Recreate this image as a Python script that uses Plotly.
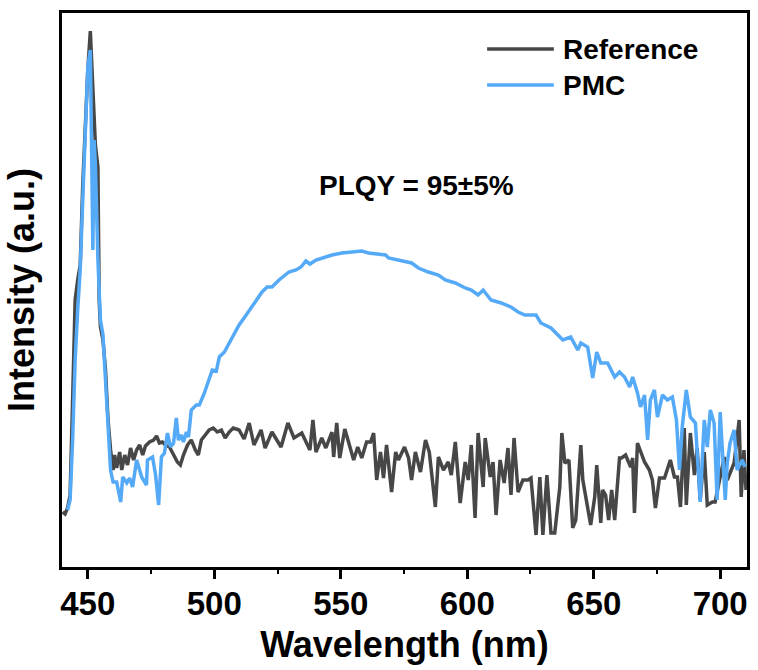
import plotly.graph_objects as go

# ---------------- data ----------------
ref_wl = [440.0, 441.0, 442.0, 443.0, 444.0, 445.0, 446.0, 447.0, 448.0, 449.0, 450.0, 451.0,
          452.0, 453.0, 454.0, 454.5, 455.0, 456.0, 457.0, 458.0, 459.0, 460.0,
          460.6, 461.4, 462.6, 463.4, 464.6, 465.7, 466.9, 468.1, 469.3, 470.5, 471.7, 472.8,
          474.4, 476.0, 477.2, 478.3, 479.5, 480.7, 482.3, 483.9, 485.4, 486.6, 487.8, 489.4,
          490.9, 492.5, 493.7, 494.9, 496.5, 498.0, 499.6, 501.2, 502.8, 504.3, 505.9, 507.5,
          509.8, 511.8, 513.8, 515.7, 518.5, 520.1, 522.8, 526.4, 529.1, 531.5, 534.6, 537.8,
          539.0, 540.2, 542.5, 544.1, 546.5, 547.2, 548.4, 549.6, 551.6, 553.1, 555.1, 556.7,
          558.3, 560.2, 561.8, 563.0, 564.2, 565.7, 566.9, 568.1, 570.1, 571.7, 572.8, 575.2,
          576.8, 578.0, 579.5, 581.5, 583.5, 585.0, 587.4, 588.6, 590.6, 592.5, 593.7, 595.3,
          597.2, 599.2, 600.4, 601.6, 603.1, 604.3, 606.3, 607.1, 609.1, 610.2, 611.4, 613.0,
          614.6, 616.1, 617.3, 618.5, 620.1, 622.0, 624.0, 625.2, 627.2, 628.7, 629.9, 631.5,
          633.1, 634.6, 636.6, 637.4, 638.6, 640.2, 641.7, 642.9, 644.9, 645.7, 648.8, 650.4,
          651.2, 652.8, 653.5, 654.7, 655.9, 657.1, 658.3, 660.2, 661.0, 662.6, 664.6, 665.4,
          666.1, 667.3, 670.1, 672.0, 673.2, 674.4, 676.0, 678.0, 680.3, 681.9, 683.1, 684.3,
          685.8, 686.6, 688.2, 689.8, 690.9, 692.1, 693.7, 694.9, 696.9, 698.0, 701.6, 702.8,
          705.5, 707.5, 708.3, 709.4, 710.2]
ref_int = [55, 53, 59, 72, 167, 267, 287, 302, 382, 442, 497, 536,
           472, 422, 400, 267, 240, 227, 197, 147, 117, 97,
           112, 99, 115, 97, 112, 102, 119, 107, 117, 122, 112, 121,
           125, 127, 131, 124, 125, 122, 120, 112, 105, 102, 112, 122,
           127, 117, 112, 127, 132, 137, 139, 135, 137, 129, 135, 139,
           137, 128, 144, 122, 137, 119, 135, 120, 144, 129, 134, 117,
           147, 115, 129, 119, 135, 110, 144, 109, 138, 125, 107, 120,
           109, 125, 125, 134, 87, 115, 89, 122, 75, 115, 107, 120,
           109, 87, 115, 95, 127, 115, 60, 110, 97, 105, 92, 125,
           64, 105, 87, 122, 49, 134, 80, 129, 90, 105, 52, 107,
           84, 119, 72, 129, 75, 87, 87, 89, 32, 90, 32, 92,
           34, 34, 80, 134, 104, 107, 39, 47, 122, 87, 42, 70,
           102, 44, 77, 72, 47, 77, 47, 109, 109, 112, 100, 109,
           54, 124, 105, 97, 87, 59, 89, 89, 107, 90, 90, 60,
           139, 62, 134, 92, 119, 67, 115, 62, 65, 65, 110, 87,
           104, 147, 70, 117, 77]

pmc_wl = [442.0, 443.0, 444.0, 445.0, 446.0, 447.0, 448.0, 449.0, 450.0, 451.0, 452.0, 452.5,
          453.0, 454.0, 455.0, 456.0, 457.0, 458.0, 459.0, 460.0,
          461.4, 463.0, 463.8, 465.4, 466.5, 467.7, 469.3, 471.3, 473.2, 473.6, 475.6, 476.8,
          478.0, 479.1, 480.3, 481.5, 482.7, 483.9, 485.0, 485.8, 487.0, 487.8, 489.0, 489.8,
          490.9, 492.9, 494.1, 496.1, 498.0, 499.2, 500.8, 502.0, 504.0, 505.9, 507.9, 509.8,
          512.6, 514.6, 516.9, 518.9, 520.9, 522.8, 525.6, 529.5, 532.3, 534.3, 536.2, 537.8,
          540.2, 542.5, 544.1, 546.5, 550.4, 554.3, 558.3, 561.0, 565.0, 567.7, 568.9, 572.8,
          578.0, 580.7, 584.6, 588.6, 591.3, 595.3, 599.2, 601.6, 604.3, 606.3, 609.4, 613.4,
          617.3, 620.1, 622.8, 627.2, 629.1, 633.1, 637.8, 640.9, 643.7, 644.9, 647.6, 649.6,
          651.2, 652.8, 655.5, 658.3, 660.2, 662.2, 664.2, 665.4, 667.3, 668.5, 670.1, 671.3,
          672.4, 674.0, 675.2, 677.2, 679.1, 681.1, 682.7, 683.9, 685.0, 686.6, 688.2, 690.2,
          692.1, 693.7, 694.9, 696.1, 697.6, 698.8, 700.0, 702.0, 702.8, 703.9, 705.5, 706.7,
          708.7, 709.8]
pmc_int = [57, 67, 127, 207, 257, 297, 367, 442, 500, 517, 317, 427,
           402, 307, 247, 232, 187, 137, 97, 85,
           85, 65, 90, 84, 89, 80, 107, 90, 82, 107, 110, 92,
           62, 110, 114, 134, 120, 124, 149, 127, 132, 125, 135, 130,
           157, 162, 162, 174, 187, 197, 196, 210, 215, 224, 234, 242,
           252, 259, 267, 275, 280, 280, 287, 295, 297, 300, 306, 303,
           307, 309, 310, 312, 314, 315, 316, 314, 313, 312, 309, 307,
           304, 299, 295, 292, 287, 284, 279, 277, 272, 277, 267, 264,
           260, 255, 252, 252, 244, 239, 227, 230, 217, 224, 220, 189,
           215, 204, 204, 190, 195, 190, 180, 190, 174, 160, 172, 127,
           167, 177, 150, 172, 167, 170, 147, 97, 140, 177, 150, 144,
           65, 147, 120, 157, 144, 67, 155, 67, 104, 124, 137, 97,
           107, 100]

series_names = ["Reference", "PMC"]
series_colors = ["#474747", "#55AAF8"]
x_tick_vals = [450, 500, 550, 600, 650, 700]
x_tick_text = ["450", "500", "550", "600", "650", "700"]
annotation_text = "PLQY = 95±5%"

assert len(ref_wl) == len(ref_int)
assert len(pmc_wl) == len(pmc_int)

FONT = "Liberation Sans, Arial, sans-serif"

fig = go.Figure()
fig.add_trace(go.Scatter(x=ref_wl, y=ref_int, mode="lines", name=series_names[0],
                         line=dict(color=series_colors[0], width=3.5), showlegend=False))
fig.add_trace(go.Scatter(x=pmc_wl, y=pmc_int, mode="lines", name=series_names[1],
                         line=dict(color=series_colors[1], width=3.5), showlegend=False))

# legend drawn manually (long line samples like the original)
legend_rows = [0.935, 0.870]
for name, color, yy in zip(series_names, series_colors, legend_rows):
    fig.add_shape(type="line", xref="paper", yref="paper", x0=0.6206, x1=0.718, y0=yy, y1=yy,
                  line=dict(color=color, width=3.5))
    fig.add_annotation(xref="paper", yref="paper", x=0.728, y=yy, text=name, showarrow=False,
                       xanchor="left", yanchor="middle",
                       font=dict(family=FONT, size=28, color="black", weight="bold"))

fig.add_annotation(xref="paper", yref="paper", x=0.5174, y=0.6895, text=annotation_text,
                   showarrow=False, xanchor="center", yanchor="middle",
                   font=dict(family=FONT, size=28, color="black", weight="bold"))

fig.update_layout(
    width=758, height=670,
    margin=dict(l=62, r=8, t=13, b=103),
    paper_bgcolor="white", plot_bgcolor="white",
    showlegend=False,
    xaxis=dict(range=[439.8, 710.6], showgrid=False, zeroline=False,
               showline=True, linecolor="black", linewidth=3, mirror=True,
               ticks="outside", ticklen=9, tickwidth=3, tickcolor="black",
               tickvals=x_tick_vals, ticktext=x_tick_text, ticklabelstandoff=-4,
               tickfont=dict(family=FONT, size=33, color="black", weight="bold"),
               minor=dict(ticks="outside", ticklen=4, tickwidth=2, tickcolor="black",
                          tickvals=[475, 525, 575, 625, 675]),
               title=dict(text="Wavelength (nm)", standoff=12,
                          font=dict(family=FONT, size=36, color="black", weight="bold"))),
    yaxis=dict(range=[0, 554], showgrid=False, zeroline=False,
               showline=True, linecolor="black", linewidth=3, mirror=True,
               ticks="", showticklabels=False,
               title=dict(text="Intensity (a.u.)", standoff=14,
                          font=dict(family=FONT, size=36, color="black", weight="bold"))),
)

fig.write_html("out.html", config={"displayModeBar": False},
               post_script="document.body.style.margin='0';document.body.style.overflow='hidden';")
